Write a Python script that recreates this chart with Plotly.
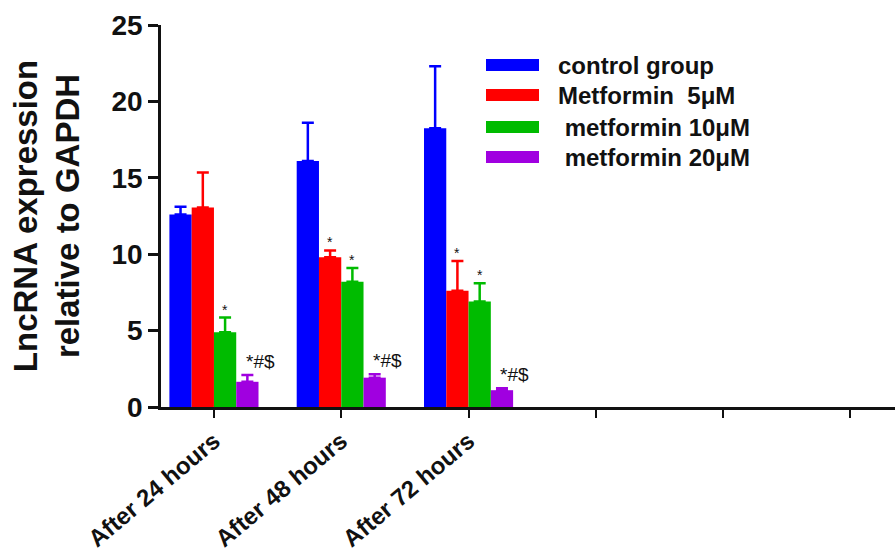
import plotly.graph_objects as go

# ---- data ----
categories = ["After 24 hours", "After 48 hours", "After 72 hours", "", " ", "  "]
series_names = ["control group", "Metformin  5μM", " metformin 10μM", " metformin 20μM"]
series_colors = ["#0000ff", "#ff0000", "#00bb00", "#a000e0"]
means = [
    [12.6, 16.1, 18.25],   # control
    [13.05, 9.8, 7.6],     # 5 uM
    [4.9, 8.2, 6.9],       # 10 uM
    [1.65, 1.92, 1.1],     # 20 uM
]
errors = [
    [0.5, 2.5, 4.05],
    [2.3, 0.45, 1.95],
    [0.95, 0.9, 1.2],
    [0.45, 0.22, 0.12],
]
sig_labels = [
    ["", "", ""],
    ["", "*", "*"],
    ["*", "*", "*"],
    ["*#$", "*#$", "*#$"],
]
y_ticks = [0, 5, 10, 15, 20, 25]

FONT = "Liberation Sans, Arial, sans-serif"
W, H = 895, 555
ML, MR, MT, MB = 161, 0, 25, 148

fig = go.Figure()
xs = list(range(len(categories)))
n_groups = len(means[0])
for i, name in enumerate(series_names):
    fig.add_trace(go.Bar(
        x=xs[:n_groups], y=means[i], name=name,
        marker=dict(color=series_colors[i], line=dict(width=0)),
        error_y=dict(type="data", array=errors[i], symmetric=False,
                     arrayminus=[0] * n_groups, color=series_colors[i],
                     thickness=2.5, width=6),
        showlegend=False,
    ))

# significance markers above error bars
bargap = 0.3
bw = (1 - bargap) / len(series_names)
annotations = []
for i in range(len(series_names)):
    off = -((1 - bargap) / 2) + bw * (i + 0.5)
    for g in range(n_groups):
        lab = sig_labels[i][g]
        if not lab:
            continue
        big = len(lab) > 1
        annotations.append(dict(
            x=xs[g] + off, y=means[i][g] + errors[i][g], xref="x", yref="y",
            text=lab, showarrow=False, yanchor="bottom",
            xshift=13 if big else 0, yshift=1 if big else -2,
            font=dict(family=FONT, size=19 if big else 14, color="#111")))

# manual legend (wide swatches as in the reference)
def px_to_paper(px, py):
    return ((px - ML) / (W - ML - MR), (H - MB - py) / (H - MT - MB))

legend_rows = [65, 95, 127, 157]
shapes = []
for i, name in enumerate(series_names):
    x0, y0 = px_to_paper(486, legend_rows[i] - 6)
    x1, y1 = px_to_paper(539, legend_rows[i] + 6)
    shapes.append(dict(type="rect", xref="paper", yref="paper",
                       x0=x0, x1=x1, y0=y1, y1=y0,
                       fillcolor=series_colors[i], line=dict(width=0)))
    tx, ty = px_to_paper(556, legend_rows[i])
    annotations.append(dict(x=tx, y=ty, xref="paper", yref="paper",
                            text="<b>%s</b>" % name, showarrow=False,
                            xanchor="left", yanchor="middle",
                            font=dict(family=FONT, size=24, color="#111")))

fig.update_layout(
    width=W, height=H,
    margin=dict(l=ML, r=MR, t=MT, b=MB),
    plot_bgcolor="white", paper_bgcolor="white",
    barmode="group", bargap=bargap, bargroupgap=0,
    annotations=annotations, shapes=shapes,
    showlegend=False,
)
fig.update_xaxes(
    range=[-0.416, 5.35], tickmode="array", tickvals=xs,
    ticktext=["<b>%s</b>" % c if c.strip() else "" for c in categories],
    tickangle=-40, ticks="outside", ticklen=8, tickwidth=2, tickcolor="#111",
    showline=True, linewidth=2.5, linecolor="#111", showgrid=False, zeroline=False,
    tickfont=dict(family=FONT, size=24, color="#111"),
)
fig.update_yaxes(
    range=[0, 25], tickmode="array", tickvals=y_ticks,
    ticktext=["<b>%d</b>" % t for t in y_ticks],
    ticks="outside", ticklen=10, tickwidth=2.5, tickcolor="#111",
    showline=True, linewidth=2.5, linecolor="#111", showgrid=False, zeroline=False,
    tickfont=dict(family=FONT, size=28, color="#111"),
    title=dict(text="<b>LncRNA expression<br>relative to GAPDH</b>",
               font=dict(family=FONT, size=33, color="#111"), standoff=22),
)

fig.write_html("out.html")
